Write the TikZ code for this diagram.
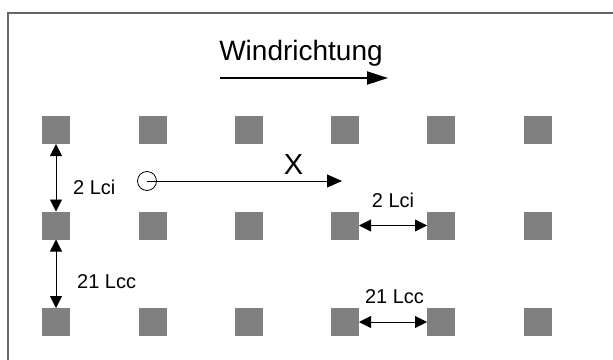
\documentclass[tikz,border=0pt]{standalone}
\usepackage{fontspec}
\setmainfont{Liberation Sans}
\usetikzlibrary{arrows.meta}
\begin{document}
\begin{tikzpicture}[x=1pt,y=-1pt,
  pillar/.style={fill=black!50,draw=none,minimum size=28pt,inner sep=0pt,outer sep=0pt},
  dim/.style={line width=0.8pt,{Triangle[length=12pt,width=12pt]}-{Triangle[length=12pt,width=12pt]}},
  lbl/.style={inner sep=0pt,font=\fontsize{20}{22}\selectfont},
  big/.style={inner sep=0pt,font=\fontsize{28}{30}\selectfont},
  frame/.style={draw=black!60,line width=1.3pt}]
\useasboundingbox (0,0) rectangle (613,359);
% frame
\coordinate (fbl) at (8,360);
\coordinate (ftl) at (8,13);
\coordinate (ftr) at (614,13);
\draw[frame] (fbl) -- (ftl) -- (ftr);
% pillars
\foreach \r/\y in {1/130,2/225.5,3/322}{
  \foreach \c/\x in {1/56,2/153,3/249,4/345,5/441,6/538}{
    \node[pillar] (s\r\c) at (\x,\y) {};
  }
}
% wind direction
\node[big,anchor=base] (wind) at (301,60) {Windrichtung};
\coordinate (ws) at (220,78);
\coordinate (we) at (388,78);
\draw[line width=2pt,-{Triangle[length=21pt,width=13pt]}] (ws) -- (we);
% X path
\node[draw,circle,minimum size=19pt,inner sep=0pt,line width=0.8pt] (c) at (147,181) {};
\coordinate (xe) at (342,181);
\draw[line width=0.8pt,-{Triangle[length=15pt,width=13pt]}] (c.center) -- (xe);
\node[inner sep=0pt,anchor=base,font=\fontsize{29}{31}\selectfont] (xl) at (293.5,174) {X};
% vertical dimensions
\draw[dim] (s11.south) -- (s21.north);
\draw[dim] (s21.south) -- (s31.north);
\node[lbl,anchor=base west] (l1) at (73,194) {2 Lci};
\node[lbl,anchor=base west] (l2) at (77,288) {21 Lcc};
% horizontal dimensions
\draw[dim] (s24.east) -- (s25.west);
\draw[dim] (s34.east) -- (s35.west);
\node[lbl,anchor=base] (l3) at (393,207) {2 Lci};
\node[lbl,anchor=base] (l4) at (394.5,303) {21 Lcc};
\end{tikzpicture}
\end{document}
